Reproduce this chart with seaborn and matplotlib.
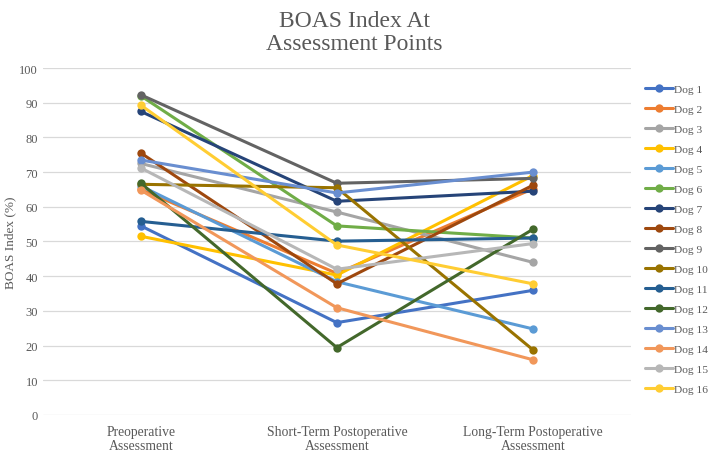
import pandas as pd
import seaborn as sns
import matplotlib.pyplot as plt

stages = ['Preoperative\nAssessment', 'Short-Term Postoperative\nAssessment', 'Long-Term Postoperative\nAssessment']
dogs = ['Dog %d' % i for i in range(1, 17)]

# BOAS index per dog: preop, short-term, long-term
pre = [54.5, 65, 72.5, 51.5, 66, 92, 87.5, 75.5, 92.3, 66.5, 55.8, 66.8, 73.5, 64.8, 71.2, 89.3]
short = [26.6, 40.8, 58.5, 40.3, 38.4, 54.5, 61.6, 37.8, 66.8, 65.5, 50.1, 19.4, 64.0, 30.9, 42.0, 49.0]
long_ = [35.9, 65.2, 44.0, 69.0, 24.8, 51.0, 64.5, 66.2, 68.2, 18.8, 51.0, 53.5, 70.0, 15.9, 49.4, 37.8]

colors = ['#4472C4', '#ED7D31', '#A5A5A5', '#FFC000', '#5B9BD5', '#70AD47', '#264478', '#9E480E',
          '#636363', '#997300', '#255E91', '#43682B', '#698ED0', '#F1975A', '#B7B7B7', '#FFCD33']

rows = []
for i, d in enumerate(dogs):
    for s, v in zip(stages, [pre[i], short[i], long_[i]]):
        rows.append({'Dog': d, 'Stage': s, 'BOAS': v})
df = pd.DataFrame(rows)

sns.set_style('white')
plt.rcParams['font.family'] = ['Liberation Serif', 'DejaVu Serif']

fig = plt.figure(figsize=(7.09, 4.52), dpi=100)
ax = fig.add_axes([0.0606, 0.080, 0.829, 0.767])
sns.lineplot(data=df, x='Stage', y='BOAS', hue='Dog', palette=colors, marker='o',
             markersize=6, markeredgewidth=0, linewidth=2.2, sort=False, ax=ax)

ax.set_ylim(0, 100)
ax.set_xlim(-0.5, 2.5)
ax.set_yticks(range(0, 101, 10))
ax.grid(axis='y', color='#d9d9d9', linewidth=0.9)
ax.set_axisbelow(True)
for sp in ax.spines.values():
    sp.set_visible(False)
ax.tick_params(axis='both', length=0, labelsize=9, colors='#595959')
ax.tick_params(axis='x', labelsize=9.8, pad=7)
for t in ax.get_xticklabels():
    t.set_linespacing(1.1)
ax.set_xlabel('')
ax.set_ylabel('BOAS Index (%)', fontsize=9.5, color='#595959', labelpad=2)

fig.suptitle('BOAS Index At\nAssessment Points', fontsize=17, color='#595959',
             y=0.975, linespacing=1.1)

ax.legend(loc='upper left', bbox_to_anchor=(1.024, 0.955), frameon=False,
          fontsize=8.2, labelcolor='#595959', handlelength=2.45, handletextpad=0.1,
          labelspacing=0.88, borderaxespad=0, borderpad=0)

plt.savefig('out.png', dpi=100)
